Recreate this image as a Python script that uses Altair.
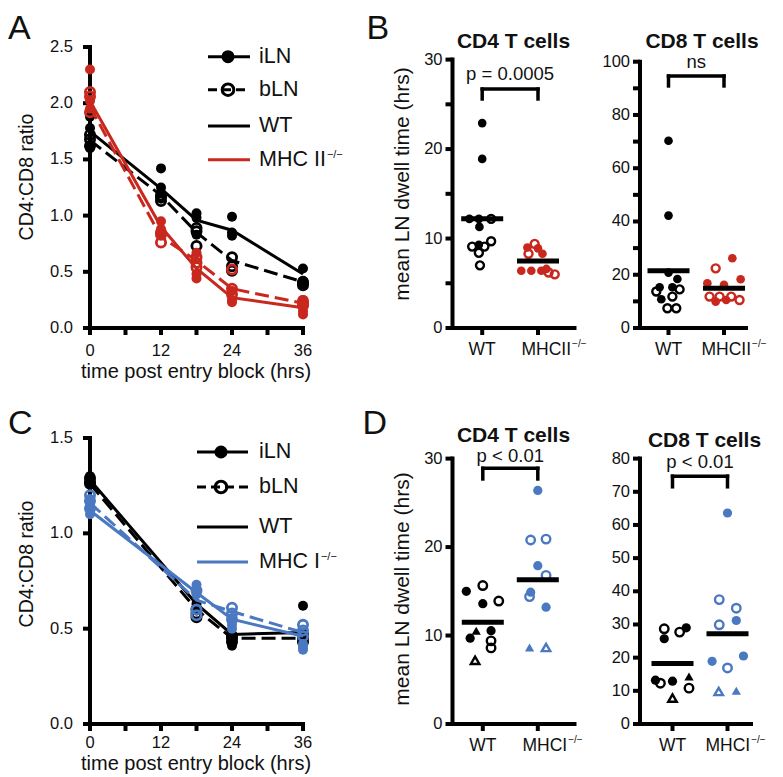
import altair as alt
import pandas as pd

FONT = "Liberation Sans"
TXT = "#111111"
RED = "#C8281E"
BLUE = "#4A79C1"

# ---------------- Panel A : CD4:CD8 ratio, WT vs MHC II-/- ----------------
A_pt_time = [0, 0, 0, 12, 12, 12, 18, 18, 18, 24, 24, 24, 36, 36, 36]
A_wt_iln = [1.88, 1.78, 1.60, 1.42, 1.25, 1.20, 1.02, 0.98, 0.83, 0.99, 0.85, 0.82, 0.53, 0.42, 0.39]
A_wt_bln = [1.72, 1.68, 1.62, 1.16, 1.13, 1.18, 0.89, 0.73, 0.86, 0.63, 0.51, 0.55, 0.41, 0.38, 0.40]
A_ko_iln = [2.30, 2.02, 1.95, 0.95, 0.88, 0.85, 0.67, 0.48, 0.44, 0.33, 0.25, 0.23, 0.25, 0.12, 0.15]
A_ko_bln = [2.10, 2.06, 1.92, 0.85, 0.76, 0.83, 0.63, 0.54, 0.58, 0.52, 0.35, 0.30, 0.22, 0.20, 0.24]
A_line_time = [0, 12, 18, 24, 36]
A_wt_iln_line = [1.75, 1.24, 0.96, 0.87, 0.48]
A_wt_bln_line = [1.67, 1.18, 0.85, 0.60, 0.41]
A_ko_iln_line = [2.02, 0.90, 0.53, 0.27, 0.18]
A_ko_bln_line = [1.97, 0.81, 0.60, 0.35, 0.22]

# ---------------- Panel C : CD4:CD8 ratio, WT vs MHC I-/- ----------------
C_pt_time = [0, 0, 0, 18, 18, 18, 24, 24, 24, 36, 36, 36]
C_wt_iln = [1.30, 1.28, 1.27, 0.63, 0.61, 0.60, 0.41, 0.44, 0.47, 0.62, 0.48, 0.44]
C_wt_bln = [1.29, 1.27, 1.26, 0.60, 0.56, 0.58, 0.45, 0.46, 0.43, 0.45, 0.47, 0.43]
C_ko_iln = [1.18, 1.14, 1.10, 0.73, 0.70, 0.68, 0.54, 0.52, 0.50, 0.42, 0.40, 0.39]
C_ko_bln = [1.20, 1.17, 1.13, 0.70, 0.57, 0.60, 0.61, 0.58, 0.55, 0.52, 0.49, 0.46]
C_line_time = [0, 18, 24, 36]
C_wt_iln_line = [1.28, 0.63, 0.47, 0.48]
C_wt_bln_line = [1.26, 0.60, 0.45, 0.45]
C_ko_iln_line = [1.12, 0.69, 0.55, 0.46]
C_ko_bln_line = [1.16, 0.65, 0.59, 0.48]

# ---------------- Panel B : dwell time, WT vs MHCII-/- ----------------
B4_wt_fill_off = [0.0, 0.0, -0.23, -0.06, -0.05, -0.06]
B4_wt_fill_val = [22.9, 18.9, 12.2, 12.2, 11.3, 9.3]
B4_wt_open_off = [0.16, -0.18, 0.16, 0.04, -0.06, -0.04]
B4_wt_open_val = [12.2, 9.1, 9.7, 9.1, 8.4, 7.0]
B4_ko_fill_off = [-0.19, 0.0, 0.08, -0.30, -0.12, 0.06, 0.15]
B4_ko_fill_val = [9.0, 8.9, 8.3, 6.4, 6.4, 6.4, 6.6]
B4_ko_open_off = [-0.06, -0.17, 0.19, 0.30]
B4_ko_open_val = [9.4, 8.3, 6.2, 6.0]
B4_means = [12.2, 7.5]

B8_wt_fill_off = [0.0, 0.0, 0.0, 0.16, -0.16, 0.07, -0.13]
B8_wt_fill_val = [70.3, 42.2, 20.8, 18.4, 15.3, 15.3, 10.8]
B8_wt_open_off = [-0.22, 0.20, 0.07, -0.02, 0.14]
B8_wt_open_val = [13.7, 14.5, 11.8, 7.4, 7.4]
B8_ko_fill_off = [0.15, -0.30, 0.0, 0.30, -0.15, 0.04]
B8_ko_fill_val = [26.2, 16.8, 16.2, 18.3, 9.9, 10.5]
B8_ko_open_off = [-0.15, -0.26, -0.08, 0.13, 0.28]
B8_ko_open_val = [22.4, 11.8, 11.8, 11.8, 10.5]
B8_means = [21.5, 14.9]

# ---------------- Panel D : dwell time, WT vs MHCI-/- ----------------
D4_wt_fill_off = [-0.30, 0.0, 0.15, -0.23]
D4_wt_fill_val = [15.0, 13.6, 10.55, 9.7]
D4_wt_ftri_off = [-0.12]
D4_wt_ftri_val = [10.55]
D4_wt_open_off = [0.0, 0.29, 0.15, 0.15]
D4_wt_open_val = [15.65, 13.9, 9.4, 8.6]
D4_wt_otri_off = [-0.14]
D4_wt_otri_val = [7.2]
D4_ko_fill_off = [0.0, 0.0, -0.13, 0.15]
D4_ko_fill_val = [26.4, 17.9, 14.9, 13.2]
D4_ko_ftri_off = [-0.15]
D4_ko_ftri_val = [8.65]
D4_ko_open_off = [-0.13, 0.15, 0.15, -0.15]
D4_ko_open_val = [20.8, 20.9, 16.8, 14.4]
D4_ko_otri_off = [0.15]
D4_ko_otri_val = [8.65]
D4_means = [11.5, 16.3]

D8_wt_fill_off = [-0.15, 0.25, -0.31, 0.0]
D8_wt_fill_val = [25.7, 29.0, 13.2, 12.9]
D8_wt_ftri_off = [0.30]
D8_wt_ftri_val = [14.3]
D8_wt_open_off = [-0.15, 0.13, -0.22, 0.30]
D8_wt_open_val = [28.7, 27.7, 12.3, 10.8]
D8_wt_otri_off = [0.0]
D8_wt_otri_val = [7.8]
D8_ko_fill_off = [0.0, 0.29, -0.28, 0.16]
D8_ko_fill_val = [63.6, 20.5, 18.9, 31.2]
D8_ko_ftri_off = [0.16]
D8_ko_ftri_val = [10.0]
D8_ko_open_off = [-0.15, 0.16, -0.15, 0.0]
D8_ko_open_val = [37.5, 34.9, 29.9, 16.9]
D8_ko_otri_off = [-0.16]
D8_ko_otri_val = [9.8]
D8_means = [18.2, 27.2]

one = pd.DataFrame({"k": [0]})
TICK = 7
LW = 4
LABEL_SIZE = 16.5


def txt(text, x, y, size, align="left", baseline="alphabetic", weight="normal", color=TXT,
        angle=0):
    kw = dict(text=text, font=FONT, fontSize=size, align=align, baseline=baseline,
              fontWeight=weight, color=color)
    if angle:
        kw["angle"] = angle
    return alt.Chart(one).mark_text(**kw).encode(x=alt.value(x), y=alt.value(y))


def axes(X, Y, xf, yf, x0, x1, y0, y1, xticks, yticks, ylabels, H, ylab_gap,
         xlabels=None, xlab_dy=0):
    """Axis lines, ticks and tick labels, placed through the panel's scales."""
    r = dict(color="black", strokeWidth=LW)
    L = []
    L.append(alt.Chart(pd.DataFrame({xf: [x0], "xe": [x1], yf: [y0]}))
             .mark_rule(strokeCap="square", **r).encode(x=X, x2="xe:Q", y=Y))
    L.append(alt.Chart(pd.DataFrame({xf: [x0], yf: [y0], "ye": [y1]}))
             .mark_rule(strokeCap="square", **r).encode(x=X, y=Y, y2="ye:Q"))
    L.append(alt.Chart(pd.DataFrame({xf: xticks})).mark_rule(**r)
             .encode(x=X, y=alt.value(H), y2=alt.value(H + TICK)))
    L.append(alt.Chart(pd.DataFrame({yf: yticks})).mark_rule(**r)
             .encode(y=Y, x=alt.value(0), x2=alt.value(-TICK)))
    yv, ys = ylabels
    L.append(alt.Chart(pd.DataFrame({yf: yv, "lab": ys}))
             .mark_text(font=FONT, fontSize=LABEL_SIZE, color=TXT, align="right",
                        baseline="middle")
             .encode(y=Y, x=alt.value(-ylab_gap), text="lab:N"))
    if xlabels is not None:
        xv, xs = xlabels
        L.append(alt.Chart(pd.DataFrame({xf: xv, "lab": xs}))
                 .mark_text(font=FONT, fontSize=LABEL_SIZE, color=TXT, align="center",
                            baseline="alphabetic")
                 .encode(x=X, y=alt.value(H + xlab_dy), text="lab:N"))
    return L


def time_panel(W, H, ydom, ylab_vals, ylab_text, ytitle_y, xlab_dy, xtitle_dy, pt_time,
               series, line_time, lines, ko_color, ko_label, leg):
    xticks = [0, 6, 12, 18, 24, 30, 36]
    X = alt.X("t:Q", scale=alt.Scale(domain=[0, 36], range=[0, 213], nice=False, zero=False),
              axis=None)
    Y = alt.Y("v:Q", scale=alt.Scale(domain=ydom, range=[H, 0], nice=False, zero=False),
              axis=None)
    layers = axes(X, Y, "t", "v", 0, 36, ydom[0], ydom[1], xticks, ylab_vals,
                  (ylab_vals, ylab_text), H, 17,
                  ([0, 12, 24, 36], ["0", "12", "24", "36"]), xlab_dy)
    layers.append(txt("time post entry block (hrs)", 106, H + xtitle_dy, 20, align="center"))
    layers.append(txt("CD4:CD8 ratio", -57, ytitle_y, 19.5, align="center", angle=270))
    colors = ["black", "black", ko_color, ko_color]
    for i, (vals, lvals) in enumerate(zip(series, lines)):
        filled = i % 2 == 0
        c = colors[i]
        df = pd.DataFrame({"t": pt_time, "v": vals})
        if filled:
            layers.append(alt.Chart(df).mark_point(shape="circle", filled=True, size=100,
                                                   color=c, opacity=1).encode(x=X, y=Y))
        else:
            layers.append(alt.Chart(df).mark_point(shape="circle", filled=False, size=85,
                                                   strokeWidth=2.8, color=c, opacity=1)
                          .encode(x=X, y=Y))
        ldf = pd.DataFrame({"t": line_time, "v": lvals})
        lk = dict(color=c, strokeWidth=3)
        if not filled:
            lk["strokeDash"] = [14, 6]
        layers.append(alt.Chart(ldf).mark_line(**lk).encode(x=X, y=Y))

    # legend
    lx0, lx1, lm, lt, ys = leg
    rows = [("iLN", "black", False, "fill"), ("bLN", "black", True, "open"),
            ("WT", "black", False, None), (ko_label, ko_color, False, None)]
    for (label, c, dashed, marker), y in zip(rows, ys):
        rk = dict(color=c, strokeWidth=3)
        if dashed:
            rk["strokeDash"] = [9, 5]
        layers.append(alt.Chart(one).mark_rule(**rk).encode(
            x=alt.value(lx0), x2=alt.value(lx1), y=alt.value(y)))
        if marker == "fill":
            layers.append(alt.Chart(one).mark_point(shape="circle", filled=True, size=170,
                                                    color=c, opacity=1)
                          .encode(x=alt.value(lm), y=alt.value(y)))
        elif marker == "open":
            layers.append(alt.Chart(one).mark_point(shape="circle", filled=False, size=135,
                                                    strokeWidth=3, color=c, opacity=1)
                          .encode(x=alt.value(lm), y=alt.value(y)))
        layers.append(txt(label, lt, y, 21.5, baseline="middle"))
    sup_x = lt + (3.111 if ko_label == "MHC II" else 2.833) * 21.5 + 1
    layers.append(txt("\u2212/\u2212", sup_x, ys[3] - 5, 11, baseline="middle"))
    return alt.layer(*layers).properties(width=W, height=H)


def dot_panel(W, H, y_top, ydom, yticks, ylab_vals, c1, c2, groups, means, bracket, ptext,
              title, title_xy, ko_label, lab_dx, ytitle_y=None, size=75, letter=None):
    sp = c2 - c1
    d0 = 1 - c1 / sp
    d1 = 1 + (W - c1) / sp
    X = alt.X("x:Q", scale=alt.Scale(domain=[d0, d1], range=[0, W], nice=False, zero=False),
              axis=None)
    Y = alt.Y("y:Q", scale=alt.Scale(domain=ydom, range=[H, y_top], nice=False, zero=False),
              axis=None)
    layers = axes(X, Y, "x", "y", d0, d1, ydom[0], ydom[1], [1, 2], yticks,
                  (ylab_vals, [str(v) for v in ylab_vals]), H, 10)
    if ytitle_y is not None:
        layers.append(txt("mean LN dwell time (hrs)", -44, ytitle_y, 21, align="center",
                          angle=270))
    for cat, offs, vals, color, filled, shape in groups:
        df = pd.DataFrame({"x": [cat + o for o in offs], "y": vals})
        if filled:
            m = alt.Chart(df).mark_point(shape=shape, filled=True, size=size, color=color,
                                         opacity=1)
        else:
            m = alt.Chart(df).mark_point(shape=shape, filled=False, size=size * 0.85,
                                         strokeWidth=2.4, color=color, opacity=1)
        layers.append(m.encode(x=X, y=Y))
    hw = 21.0 / sp
    mdf = pd.DataFrame({"x": [1 - hw, 2 - hw], "x2": [1 + hw, 2 + hw], "y": means})
    layers.append(alt.Chart(mdf).mark_rule(color="black", strokeWidth=5)
                  .encode(x=X, x2="x2:Q", y=Y))
    top, leg = bracket
    hdf = pd.DataFrame({"x": [1], "x2": [2], "y": [top]})
    layers.append(alt.Chart(hdf).mark_rule(color="black", strokeWidth=3.5, strokeCap="square")
                  .encode(x=X, x2="x2:Q", y=Y))
    vdf = pd.DataFrame({"x": [1, 2], "y": [leg, leg], "y2": [top, top]})
    layers.append(alt.Chart(vdf).mark_rule(color="black", strokeWidth=3.5, strokeCap="square")
                  .encode(x=X, y=Y, y2="y2:Q"))
    ptxt, pval = ptext
    layers.append(alt.Chart(one).mark_text(text=ptxt, font=FONT, fontSize=18.5, align="center",
                                           baseline="alphabetic", color=TXT)
                  .encode(x=alt.datum(1.5), y=alt.datum(pval)))
    layers.append(txt(title, title_xy[0], title_xy[1], 21, align="center", weight="bold"))
    # category labels
    ly = H + 27
    layers.append(alt.Chart(one).mark_text(text="WT", font=FONT, fontSize=17.5, align="center",
                                           baseline="alphabetic", color=TXT)
                  .encode(x=alt.datum(1), y=alt.value(ly)))
    layers.append(alt.Chart(one).mark_text(text=ko_label, font=FONT, fontSize=17.5, align="left",
                                           baseline="alphabetic", color=TXT, dx=lab_dx)
                  .encode(x=alt.datum(2), y=alt.value(ly)))
    wlab = (2.833 if ko_label == "MHCII" else 2.555) * 17.5
    layers.append(alt.Chart(one).mark_text(text="\u2212/\u2212", font=FONT, fontSize=10,
                                           align="left", baseline="alphabetic", color=TXT,
                                           dx=lab_dx + wlab + 1)
                  .encode(x=alt.datum(2), y=alt.value(ly - 8)))
    if letter is not None:
        layers.append(txt(letter[0], letter[1], letter[2], 34))
    return alt.layer(*layers).properties(width=W, height=H)


H1, H2 = 281, 286
LET_Y1 = -8      # letter baselines relative to the row tops
LET_Y2 = -4

panelA = time_panel(
    297, H1, [0, 2.5], [0, 0.5, 1.0, 1.5, 2.0, 2.5], ["0.0", "0.5", "1.0", "1.5", "2.0", "2.5"],
    130, 28, 50, A_pt_time,
    [A_wt_iln, A_wt_bln, A_ko_iln, A_ko_bln], A_line_time,
    [A_wt_iln_line, A_wt_bln_line, A_ko_iln_line, A_ko_bln_line], RED, "MHC II",
    (118, 160, 138, 169, [9.7, 42.7, 79, 112.7]))
panelA = alt.layer(panelA, txt("A", -82, LET_Y1, 34))

panelC = time_panel(
    297, H2, [0, 1.5], [0, 0.5, 1.0, 1.5], ["0.0", "0.5", "1.0", "1.5"],
    126, 24, 46, C_pt_time,
    [C_wt_iln, C_wt_bln, C_ko_iln, C_ko_bln], C_line_time,
    [C_wt_iln_line, C_wt_bln_line, C_ko_iln_line, C_ko_bln_line], BLUE, "MHC I",
    (107, 158, 131, 169, [14, 49, 89, 124]))
panelC = alt.layer(panelC, txt("C", -82, LET_Y2, 34))

panelB4 = dot_panel(
    122, H1, 12.6, [0, 30], list(range(0, 31, 5)), [0, 10, 20, 30], 29.7, 85.5,
    [(1, B4_wt_fill_off, B4_wt_fill_val, "black", True, "circle"),
     (1, B4_wt_open_off, B4_wt_open_val, "black", False, "circle"),
     (2, B4_ko_fill_off, B4_ko_fill_val, RED, True, "circle"),
     (2, B4_ko_open_off, B4_ko_open_val, RED, False, "circle")],
    B4_means, (26.7, 25.6), ("p = 0.0005", 27.7), "CD4 T cells", (61, 1), "MHCII", -16.5,
    ytitle_y=137, letter=("B", -86, LET_Y1))

panelB8 = dot_panel(
    106, H1, 14.7, [0, 100], list(range(0, 101, 10)), [0, 20, 40, 60, 80, 100], 28.5, 84.0,
    [(1, B8_wt_fill_off, B8_wt_fill_val, "black", True, "circle"),
     (1, B8_wt_open_off, B8_wt_open_val, "black", False, "circle"),
     (2, B8_ko_fill_off, B8_ko_fill_val, RED, True, "circle"),
     (2, B8_ko_open_off, B8_ko_open_val, RED, False, "circle")],
    B8_means, (94.6, 90.9), ("ns", 97.6), "CD8 T cells", (62, 1), "MHCII", -22.5)

panelD4 = dot_panel(
    122, H2, 20.6, [0, 30], [0, 10, 20, 30], [0, 10, 20, 30], 30.3, 85.3,
    [(1, D4_wt_fill_off, D4_wt_fill_val, "black", True, "circle"),
     (1, D4_wt_ftri_off, D4_wt_ftri_val, "black", True, "triangle-up"),
     (1, D4_wt_open_off, D4_wt_open_val, "black", False, "circle"),
     (1, D4_wt_otri_off, D4_wt_otri_val, "black", False, "triangle-up"),
     (2, D4_ko_fill_off, D4_ko_fill_val, BLUE, True, "circle"),
     (2, D4_ko_ftri_off, D4_ko_ftri_val, BLUE, True, "triangle-up"),
     (2, D4_ko_open_off, D4_ko_open_val, BLUE, False, "circle"),
     (2, D4_ko_otri_off, D4_ko_otri_val, BLUE, False, "triangle-up")],
    D4_means, (28.9, 27.7), ("p < 0.01", 29.6), "CD4 T cells", (61, 4), "MHCI", -15.3,
    ytitle_y=151, size=85, letter=("D", -90, LET_Y2))

panelD8 = dot_panel(
    111, H2, 20.6, [0, 80], list(range(0, 81, 10)), list(range(0, 81, 10)), 32.5, 87.5,
    [(1, D8_wt_fill_off, D8_wt_fill_val, "black", True, "circle"),
     (1, D8_wt_ftri_off, D8_wt_ftri_val, "black", True, "triangle-up"),
     (1, D8_wt_open_off, D8_wt_open_val, "black", False, "circle"),
     (1, D8_wt_otri_off, D8_wt_otri_val, "black", False, "triangle-up"),
     (2, D8_ko_fill_off, D8_ko_fill_val, BLUE, True, "circle"),
     (2, D8_ko_ftri_off, D8_ko_ftri_val, BLUE, True, "triangle-up"),
     (2, D8_ko_open_off, D8_ko_open_val, BLUE, False, "circle"),
     (2, D8_ko_otri_off, D8_ko_otri_val, BLUE, False, "triangle-up")],
    D8_means, (74.7, 71.5), ("p < 0.01", 77.1), "CD8 T cells", (64.5, 9), "MHCI", -22,
    size=85)

chart = (
    alt.concat(panelA, panelB4, panelB8, panelC, panelD4, panelD8, columns=3)
    .properties(bounds="flush", align="each", spacing={"row": 110, "column": 65.5},
                padding={"top": 4, "left": 0, "right": 4, "bottom": 4},
                background="white")
    .configure_view(stroke=None)
)

chart.save("out.html", embed_options={"renderer": "svg", "actions": False})
